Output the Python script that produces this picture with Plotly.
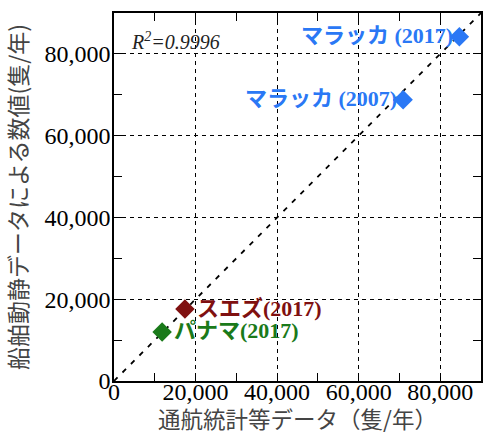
import plotly.graph_objects as go

names = ["マラッカ (2017)", "マラッカ (2007)", "スエズ(2017)", "パナマ(2017)"]
x_vals = [84700, 70900, 17400, 11800]
y_vals = [84200, 68800, 17600, 12000]
colors = ["#2a78f5", "#2a78f5", "#7f1010", "#1a7a1a"]
label_side = ["left", "left", "right", "right"]
tick_vals = [0, 20000, 40000, 60000, 80000]
tick_text = ["0", "20,000", "40,000", "60,000", "80,000"]
line_range = [0, 90000]

fig = go.Figure()
fig.add_trace(go.Scatter(x=line_range, y=line_range, mode="lines",
                         line=dict(color="black", width=1.8, dash="5px,7px"),
                         hoverinfo="skip", showlegend=False))
fig.add_trace(go.Scatter(x=x_vals, y=y_vals, mode="markers",
                         marker=dict(symbol="diamond", size=15, color=colors),
                         showlegend=False))

for n, xv, yv, c, side in zip(names, x_vals, y_vals, colors, label_side):
    fig.add_annotation(x=xv, y=yv, text=f"<b>{n}</b>", showarrow=False,
                       xanchor="right" if side == "left" else "left",
                       xshift=-4 if side == "left" else 10, yshift=1,
                       font=dict(family="Liberation Serif, Noto Sans CJK JP", size=22, color=c))

fig.add_annotation(x=0.04, y=0.925, xref="paper", yref="paper", text="<i>R<sup>2</sup>=0.9996</i>",
                   showarrow=False, xanchor="left", yanchor="middle",
                   font=dict(family="Liberation Serif", size=20, color="#222"))

axis_common = dict(range=line_range, tickvals=tick_vals, ticktext=tick_text, automargin=False,
                   showgrid=True, gridcolor="black", griddash="4px,4px", gridwidth=1,
                   zeroline=False, showline=True, linecolor="black", linewidth=1.5,
                   mirror="ticks", ticks="inside", ticklen=8, tickcolor="black",
                   minor=dict(dtick=10000, ticks="inside", ticklen=8, tickcolor="black", showgrid=False),
                   tickfont=dict(family="Liberation Serif", size=24, color="black"))

fig.update_xaxes(**axis_common, ticklabelstandoff=-12,
                 title=dict(text="通航統計等データ（隻/年）", standoff=19,
                            font=dict(family="Noto Sans CJK JP", size=22.5, color="#444")))
fig.update_yaxes(**axis_common, ticklabelstandoff=-3,
                 title=dict(text="船舶動静データによる数値(隻/年)", standoff=11,
                            font=dict(family="Noto Sans CJK JP", size=23, color="#444")))

fig.update_layout(width=483, height=434, margin=dict(l=114, r=2, t=13, b=53),
                  plot_bgcolor="white", paper_bgcolor="white")
fig.write_html("out.html", config={"displayModeBar": False},
               post_script="document.body.style.margin='0';")
